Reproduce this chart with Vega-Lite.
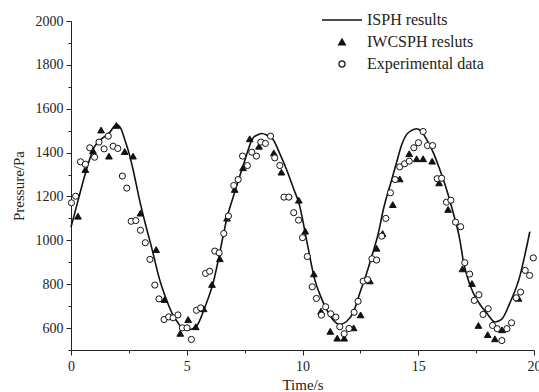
{
  "$schema": "https://vega.github.io/schema/vega-lite/v6.json",
  "width": 463,
  "height": 329,
  "autosize": {"type": "none"},
  "padding": {"left": 71, "top": 21, "right": 5, "bottom": 42},
  "background": "white",
  "config": {
    "view": {"stroke": null},
    "font": "Liberation Serif",
    "axis": {
      "domainColor": "#222",
      "tickColor": "#222",
      "labelColor": "#222",
      "titleColor": "#222",
      "labelFont": "Liberation Serif",
      "titleFont": "Liberation Serif",
      "labelFontSize": 14,
      "titleFontSize": 15,
      "titleFontWeight": "normal",
      "grid": false,
      "domainWidth": 1,
      "tickWidth": 1
    },
    "legend": {
      "labelFont": "Liberation Serif",
      "labelFontSize": 16,
      "labelColor": "#222"
    }
  },
  "datasets": {
    "isph": [
      {"t": 0, "p": 1060}, {"t": 0.3, "p": 1180}, {"t": 0.67, "p": 1323}, {"t": 1.0, "p": 1425},
      {"t": 1.3, "p": 1460}, {"t": 1.67, "p": 1492}, {"t": 1.96, "p": 1528}, {"t": 2.15, "p": 1510},
      {"t": 2.32, "p": 1460}, {"t": 2.5, "p": 1400}, {"t": 2.68, "p": 1323}, {"t": 2.97, "p": 1180},
      {"t": 3.2, "p": 1080}, {"t": 3.5, "p": 960}, {"t": 3.83, "p": 820}, {"t": 4.12, "p": 730},
      {"t": 4.4, "p": 660}, {"t": 4.62, "p": 624}, {"t": 4.8, "p": 600}, {"t": 5.0, "p": 592},
      {"t": 5.2, "p": 595}, {"t": 5.42, "p": 608}, {"t": 5.8, "p": 700}, {"t": 6.14, "p": 806},
      {"t": 6.57, "p": 1019}, {"t": 6.72, "p": 1095}, {"t": 7.0, "p": 1195}, {"t": 7.43, "p": 1338},
      {"t": 7.87, "p": 1468}, {"t": 8.05, "p": 1480}, {"t": 8.23, "p": 1487}, {"t": 8.45, "p": 1480},
      {"t": 8.73, "p": 1460}, {"t": 9.0, "p": 1400}, {"t": 9.31, "p": 1323}, {"t": 9.6, "p": 1240},
      {"t": 9.88, "p": 1156}, {"t": 10.17, "p": 1004}, {"t": 10.53, "p": 821}, {"t": 10.8, "p": 740},
      {"t": 11.04, "p": 685}, {"t": 11.3, "p": 640}, {"t": 11.61, "p": 616}, {"t": 11.9, "p": 630},
      {"t": 12.19, "p": 670}, {"t": 12.48, "p": 761}, {"t": 12.77, "p": 850}, {"t": 13.0, "p": 930},
      {"t": 13.27, "p": 1030}, {"t": 13.48, "p": 1135}, {"t": 13.85, "p": 1275}, {"t": 14.06, "p": 1354},
      {"t": 14.3, "p": 1440}, {"t": 14.5, "p": 1483}, {"t": 14.7, "p": 1500}, {"t": 14.93, "p": 1509},
      {"t": 15.15, "p": 1495}, {"t": 15.36, "p": 1460}, {"t": 15.65, "p": 1400}, {"t": 15.93, "p": 1323},
      {"t": 16.2, "p": 1240}, {"t": 16.51, "p": 1126}, {"t": 16.8, "p": 1000}, {"t": 16.94, "p": 910},
      {"t": 17.1, "p": 840}, {"t": 17.37, "p": 761}, {"t": 17.65, "p": 710}, {"t": 17.95, "p": 670},
      {"t": 18.31, "p": 628}, {"t": 18.6, "p": 640}, {"t": 18.96, "p": 715}, {"t": 19.39, "p": 837},
      {"t": 19.6, "p": 930}, {"t": 19.82, "p": 1040}
    ],
    "pts": [
      {"s": "IWCSPH resluts", "t": 0.3, "p": 1110}, {"s": "IWCSPH resluts", "t": 0.62, "p": 1323},
      {"s": "IWCSPH resluts", "t": 0.95, "p": 1409}, {"s": "IWCSPH resluts", "t": 1.3, "p": 1503},
      {"s": "IWCSPH resluts", "t": 1.64, "p": 1384}, {"s": "IWCSPH resluts", "t": 1.96, "p": 1524},
      {"s": "IWCSPH resluts", "t": 2.32, "p": 1405}, {"s": "IWCSPH resluts", "t": 2.68, "p": 1384},
      {"s": "IWCSPH resluts", "t": 3.0, "p": 1124}, {"s": "IWCSPH resluts", "t": 3.68, "p": 958},
      {"s": "IWCSPH resluts", "t": 4.04, "p": 730}, {"s": "IWCSPH resluts", "t": 4.72, "p": 576},
      {"s": "IWCSPH resluts", "t": 5.06, "p": 639}, {"s": "IWCSPH resluts", "t": 5.39, "p": 606},
      {"s": "IWCSPH resluts", "t": 5.73, "p": 688}, {"s": "IWCSPH resluts", "t": 6.09, "p": 799},
      {"s": "IWCSPH resluts", "t": 6.43, "p": 916}, {"s": "IWCSPH resluts", "t": 6.74, "p": 1101},
      {"s": "IWCSPH resluts", "t": 7.07, "p": 1232}, {"s": "IWCSPH resluts", "t": 7.43, "p": 1331},
      {"s": "IWCSPH resluts", "t": 7.72, "p": 1463}, {"s": "IWCSPH resluts", "t": 8.12, "p": 1429},
      {"s": "IWCSPH resluts", "t": 8.76, "p": 1399}, {"s": "IWCSPH resluts", "t": 9.09, "p": 1311},
      {"s": "IWCSPH resluts", "t": 9.84, "p": 1183}, {"s": "IWCSPH resluts", "t": 10.12, "p": 1042},
      {"s": "IWCSPH resluts", "t": 10.49, "p": 847}, {"s": "IWCSPH resluts", "t": 10.8, "p": 677},
      {"s": "IWCSPH resluts", "t": 11.2, "p": 585}, {"s": "IWCSPH resluts", "t": 11.5, "p": 554},
      {"s": "IWCSPH resluts", "t": 11.8, "p": 554}, {"s": "IWCSPH resluts", "t": 12.21, "p": 601},
      {"s": "IWCSPH resluts", "t": 12.51, "p": 660}, {"s": "IWCSPH resluts", "t": 12.91, "p": 815},
      {"s": "IWCSPH resluts", "t": 13.2, "p": 964}, {"s": "IWCSPH resluts", "t": 13.46, "p": 1031},
      {"s": "IWCSPH resluts", "t": 13.9, "p": 1163}, {"s": "IWCSPH resluts", "t": 14.2, "p": 1280},
      {"s": "IWCSPH resluts", "t": 14.61, "p": 1395}, {"s": "IWCSPH resluts", "t": 14.93, "p": 1372},
      {"s": "IWCSPH resluts", "t": 15.21, "p": 1372}, {"s": "IWCSPH resluts", "t": 15.6, "p": 1361},
      {"s": "IWCSPH resluts", "t": 15.9, "p": 1262}, {"s": "IWCSPH resluts", "t": 16.29, "p": 1141},
      {"s": "IWCSPH resluts", "t": 16.91, "p": 870}, {"s": "IWCSPH resluts", "t": 17.32, "p": 803},
      {"s": "IWCSPH resluts", "t": 17.6, "p": 612}, {"s": "IWCSPH resluts", "t": 18.0, "p": 570},
      {"s": "IWCSPH resluts", "t": 18.31, "p": 551}, {"s": "IWCSPH resluts", "t": 18.62, "p": 592},
      {"s": "IWCSPH resluts", "t": 19.33, "p": 736},
      {"s": "Experimental data", "t": 0.02, "p": 1171}, {"s": "Experimental data", "t": 0.2, "p": 1201},
      {"s": "Experimental data", "t": 0.41, "p": 1358}, {"s": "Experimental data", "t": 0.62, "p": 1347},
      {"s": "Experimental data", "t": 0.81, "p": 1422}, {"s": "Experimental data", "t": 1.02, "p": 1379},
      {"s": "Experimental data", "t": 1.21, "p": 1448}, {"s": "Experimental data", "t": 1.43, "p": 1417},
      {"s": "Experimental data", "t": 1.61, "p": 1475}, {"s": "Experimental data", "t": 1.82, "p": 1429},
      {"s": "Experimental data", "t": 2.02, "p": 1419}, {"s": "Experimental data", "t": 2.22, "p": 1293},
      {"s": "Experimental data", "t": 2.41, "p": 1238}, {"s": "Experimental data", "t": 2.6, "p": 1087},
      {"s": "Experimental data", "t": 2.8, "p": 1090}, {"s": "Experimental data", "t": 3.0, "p": 1046},
      {"s": "Experimental data", "t": 3.21, "p": 989}, {"s": "Experimental data", "t": 3.41, "p": 913},
      {"s": "Experimental data", "t": 3.62, "p": 796}, {"s": "Experimental data", "t": 3.8, "p": 733},
      {"s": "Experimental data", "t": 4.02, "p": 639}, {"s": "Experimental data", "t": 4.22, "p": 651},
      {"s": "Experimental data", "t": 4.41, "p": 647}, {"s": "Experimental data", "t": 4.62, "p": 660},
      {"s": "Experimental data", "t": 4.81, "p": 601}, {"s": "Experimental data", "t": 5.01, "p": 601},
      {"s": "Experimental data", "t": 5.2, "p": 548}, {"s": "Experimental data", "t": 5.42, "p": 681},
      {"s": "Experimental data", "t": 5.6, "p": 692}, {"s": "Experimental data", "t": 5.81, "p": 849},
      {"s": "Experimental data", "t": 5.99, "p": 859}, {"s": "Experimental data", "t": 6.21, "p": 951},
      {"s": "Experimental data", "t": 6.4, "p": 943}, {"s": "Experimental data", "t": 6.6, "p": 1031},
      {"s": "Experimental data", "t": 6.8, "p": 1111}, {"s": "Experimental data", "t": 7.03, "p": 1250},
      {"s": "Experimental data", "t": 7.22, "p": 1277}, {"s": "Experimental data", "t": 7.41, "p": 1384},
      {"s": "Experimental data", "t": 7.62, "p": 1341}, {"s": "Experimental data", "t": 7.81, "p": 1402},
      {"s": "Experimental data", "t": 8.01, "p": 1384}, {"s": "Experimental data", "t": 8.2, "p": 1448},
      {"s": "Experimental data", "t": 8.4, "p": 1442}, {"s": "Experimental data", "t": 8.62, "p": 1475},
      {"s": "Experimental data", "t": 8.8, "p": 1376}, {"s": "Experimental data", "t": 9.02, "p": 1341},
      {"s": "Experimental data", "t": 9.2, "p": 1197}, {"s": "Experimental data", "t": 9.41, "p": 1197},
      {"s": "Experimental data", "t": 9.62, "p": 1126}, {"s": "Experimental data", "t": 9.83, "p": 1092},
      {"s": "Experimental data", "t": 10.0, "p": 1012}, {"s": "Experimental data", "t": 10.21, "p": 926},
      {"s": "Experimental data", "t": 10.42, "p": 788}, {"s": "Experimental data", "t": 10.6, "p": 735},
      {"s": "Experimental data", "t": 10.82, "p": 659}, {"s": "Experimental data", "t": 11.0, "p": 697},
      {"s": "Experimental data", "t": 11.22, "p": 665}, {"s": "Experimental data", "t": 11.44, "p": 650},
      {"s": "Experimental data", "t": 11.61, "p": 606}, {"s": "Experimental data", "t": 11.8, "p": 574},
      {"s": "Experimental data", "t": 12.01, "p": 598}, {"s": "Experimental data", "t": 12.23, "p": 672},
      {"s": "Experimental data", "t": 12.4, "p": 722}, {"s": "Experimental data", "t": 12.62, "p": 814},
      {"s": "Experimental data", "t": 12.81, "p": 821}, {"s": "Experimental data", "t": 13.0, "p": 916},
      {"s": "Experimental data", "t": 13.2, "p": 910}, {"s": "Experimental data", "t": 13.42, "p": 1019},
      {"s": "Experimental data", "t": 13.6, "p": 1100}, {"s": "Experimental data", "t": 13.8, "p": 1217},
      {"s": "Experimental data", "t": 14.0, "p": 1277}, {"s": "Experimental data", "t": 14.2, "p": 1335},
      {"s": "Experimental data", "t": 14.41, "p": 1349}, {"s": "Experimental data", "t": 14.61, "p": 1361},
      {"s": "Experimental data", "t": 14.81, "p": 1422}, {"s": "Experimental data", "t": 15.01, "p": 1445},
      {"s": "Experimental data", "t": 15.21, "p": 1496}, {"s": "Experimental data", "t": 15.4, "p": 1432},
      {"s": "Experimental data", "t": 15.62, "p": 1432}, {"s": "Experimental data", "t": 15.82, "p": 1281},
      {"s": "Experimental data", "t": 16.01, "p": 1283}, {"s": "Experimental data", "t": 16.22, "p": 1174},
      {"s": "Experimental data", "t": 16.41, "p": 1183}, {"s": "Experimental data", "t": 16.61, "p": 1083},
      {"s": "Experimental data", "t": 16.83, "p": 1062}, {"s": "Experimental data", "t": 17.01, "p": 898},
      {"s": "Experimental data", "t": 17.22, "p": 846}, {"s": "Experimental data", "t": 17.42, "p": 726},
      {"s": "Experimental data", "t": 17.62, "p": 752}, {"s": "Experimental data", "t": 17.8, "p": 662},
      {"s": "Experimental data", "t": 18.02, "p": 688}, {"s": "Experimental data", "t": 18.21, "p": 612},
      {"s": "Experimental data", "t": 18.41, "p": 597}, {"s": "Experimental data", "t": 18.61, "p": 543},
      {"s": "Experimental data", "t": 18.83, "p": 597}, {"s": "Experimental data", "t": 19.03, "p": 624},
      {"s": "Experimental data", "t": 19.23, "p": 738}, {"s": "Experimental data", "t": 19.42, "p": 764},
      {"s": "Experimental data", "t": 19.62, "p": 863}, {"s": "Experimental data", "t": 19.81, "p": 840},
      {"s": "Experimental data", "t": 19.97, "p": 920}
    ]
  },
  "encoding": {
    "x": {
      "field": "t", "type": "quantitative",
      "scale": {"domain": [0, 20], "nice": false, "zero": false},
      "axis": {
        "title": "Time/s",
        "values": [0, 2.5, 5, 7.5, 10, 12.5, 15, 17.5, 20],
        "labelExpr": "datum.value % 5 === 0 ? datum.label : ''",
        "tickSize": {"condition": {"test": "datum.value % 5 === 0", "value": 5}, "value": 3},
        "labelPadding": 4,
        "titlePadding": 4,
        "labelFlush": false
      }
    },
    "y": {
      "field": "p", "type": "quantitative",
      "scale": {"domain": [500, 2000], "nice": false, "zero": false},
      "axis": {
        "title": "Pressure/Pa",
        "values": [500, 600, 700, 800, 900, 1000, 1100, 1200, 1300, 1400, 1500, 1600, 1700, 1800, 1900, 2000],
        "labelExpr": "datum.value % 200 === 0 ? datum.label : ''",
        "tickSize": {"condition": {"test": "datum.value % 200 === 0", "value": 5}, "value": 3},
        "format": "d",
        "labelPadding": 3,
        "titlePadding": 9,
        "labelFlush": false
      }
    }
  },
  "layer": [
    {
      "data": {"name": "isph"},
      "mark": {"type": "line", "color": "#111", "strokeWidth": 1.6, "interpolate": "monotone"}
    },
    {
      "data": {"name": "pts"},
      "mark": {"type": "point", "opacity": 1, "strokeWidth": 1},
      "encoding": {
        "shape": {
          "field": "s", "type": "nominal",
          "scale": {"domain": ["ISPH results", "IWCSPH resluts", "Experimental data"], "range": ["stroke", "triangle-up", "circle"]},
          "legend": {"title": null, "orient": "none", "legendX": 250, "legendY": -22, "padding": 0, "rowPadding": 6, "labelOffset": 4, "symbolStrokeWidth": 1.3}
        },
        "fill": {
          "field": "s", "type": "nominal",
          "scale": {"domain": ["ISPH results", "IWCSPH resluts", "Experimental data"], "range": ["#111", "#111", "white"]}
        },
        "stroke": {
          "field": "s", "type": "nominal",
          "scale": {"domain": ["ISPH results", "IWCSPH resluts", "Experimental data"], "range": ["#111", "#111", "#111"]}
        },
        "size": {
          "field": "s", "type": "nominal",
          "scale": {"type": "ordinal", "domain": ["ISPH results", "IWCSPH resluts", "Experimental data"], "range": [1600, 45, 38]}
        }
      }
    }
  ]
}
